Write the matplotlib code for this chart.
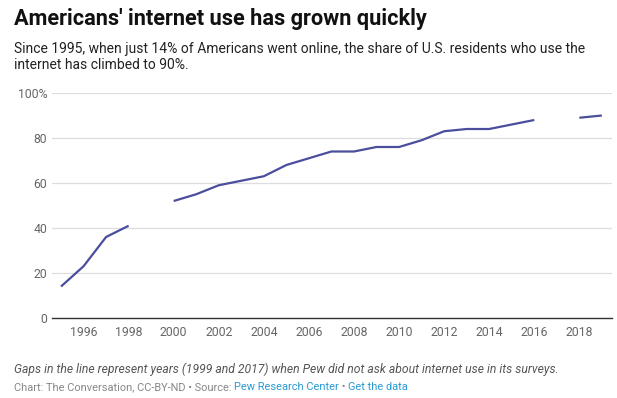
import matplotlib
matplotlib.use("Agg")
import matplotlib.pyplot as plt
import numpy as np

# data (None = survey not run that year)
years = list(range(1995, 2020))
share = [14, 23, 36, 41, None, 52, 55, 59, 61, 63, 68, 71, 74, 74, 76, 76,
         79, 83, 84, 84, 86, 88, None, 89, 90]
xticks = list(range(1996, 2019, 2))
yticks = [0, 20, 40, 60, 80, 100]
ylabels = ["0", "20", "40", "60", "80", "100%"]

W, H = 617, 398
plt.rcParams["font.family"] = ["Roboto", "DejaVu Sans"]

fig = plt.figure(figsize=(W / 100, H / 100), dpi=100)
ax = fig.add_axes([52 / W, 1 - 318 / H, (612 - 52) / W, (318 - 93) / H])

y = np.array([np.nan if v is None else v for v in share], dtype=float)
ax.plot(years, y, color="#4a4e9c", lw=1.6, solid_capstyle="butt")

ax.set_xlim(1994.6, 2019.45)
ax.set_ylim(0, 100)
ax.set_yticks(yticks)
ax.set_yticklabels(ylabels)
ax.set_xticks(xticks)
ax.grid(axis="y", color="#dddddd", lw=0.9)
ax.set_axisbelow(True)
for s in ["top", "right", "left"]:
    ax.spines[s].set_visible(False)
ax.spines["bottom"].set_color("#333333")
ax.spines["bottom"].set_linewidth(1.0)
ax.tick_params(length=0, labelsize=8.8, labelcolor="#666666")
ax.tick_params(axis="y", pad=3.5)
ax.tick_params(axis="x", pad=6)


def px(x, yy):
    return x / W, 1 - yy / H


fig.text(*px(14, 25), "Americans' internet use has grown quickly",
         fontsize=15.7, fontweight="bold", color="#111111", va="baseline")
fig.text(*px(14, 53), "Since 1995, when just 14% of Americans went online, the share of U.S. residents who use the",
         fontsize=10, color="#222222", va="baseline")
fig.text(*px(14, 69), "internet has climbed to 90%.",
         fontsize=10, color="#222222", va="baseline")
fig.text(*px(14, 373), "Gaps in the line represent years (1999 and 2017) when Pew did not ask about internet use in its surveys.",
         fontsize=8.7, style="italic", color="#555555", va="baseline")

# credit line with coloured links
parts = [("Chart: The Conversation, CC-BY-ND \u2022 Source: ", "#888888"),
         ("Pew Research Center", "#2a9bd0"),
         (" \u2022 ", "#888888"),
         ("Get the data", "#2a9bd0")]
fig.canvas.draw()
r = fig.canvas.get_renderer()
xpos = 14
for txt, col in parts:
    t = fig.text(*px(xpos, 390), txt, fontsize=7.9, color=col, va="baseline")
    xpos += t.get_window_extent(r).width

fig.savefig("out.png", dpi=100)
